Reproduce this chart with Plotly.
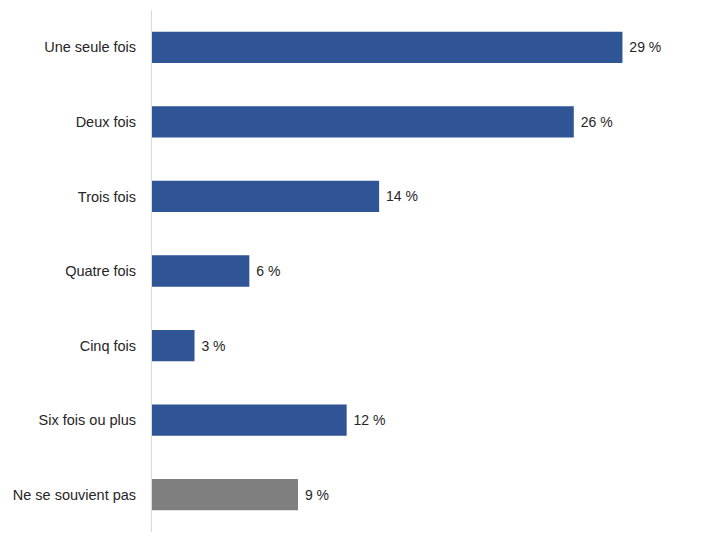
import plotly.graph_objects as go

categories = ["Une seule fois", "Deux fois", "Trois fois", "Quatre fois",
              "Cinq fois", "Six fois ou plus", "Ne se souvient pas"]
values = [29, 26, 14, 6, 2.62, 12, 9]
bar_colors = ["#2F5597", "#2F5597", "#2F5597", "#2F5597",
              "#2F5597", "#2F5597", "#7F7F7F"]
labels = [" {} %".format(int(round(v))) for v in values]

fig = go.Figure(go.Bar(
    y=categories,
    x=values,
    orientation="h",
    marker=dict(color=bar_colors, line=dict(width=0)),
    text=labels,
    textposition="outside",
    textfont=dict(family="Liberation Sans", size=14, color="#262626"),
    cliponaxis=False,
    hoverinfo="skip",
))

fig.update_layout(
    width=720, height=540,
    margin=dict(l=144, r=28, t=2, b=16),
    paper_bgcolor="white", plot_bgcolor="white",
    bargap=0.58,
    showlegend=False,
    font=dict(family="Liberation Sans", size=14, color="#262626"),
)
fig.update_xaxes(range=[0, 33.78], showgrid=False, zeroline=False,
                 showticklabels=False, showline=False)
fig.update_yaxes(autorange="reversed", showgrid=False, zeroline=False,
                 showline=True, linecolor="#D9D9D9", linewidth=1,
                 ticks="", ticklabelstandoff=12,
                 tickfont=dict(family="Liberation Sans", size=14.5, color="#262626"))

fig.write_html("out.html")
